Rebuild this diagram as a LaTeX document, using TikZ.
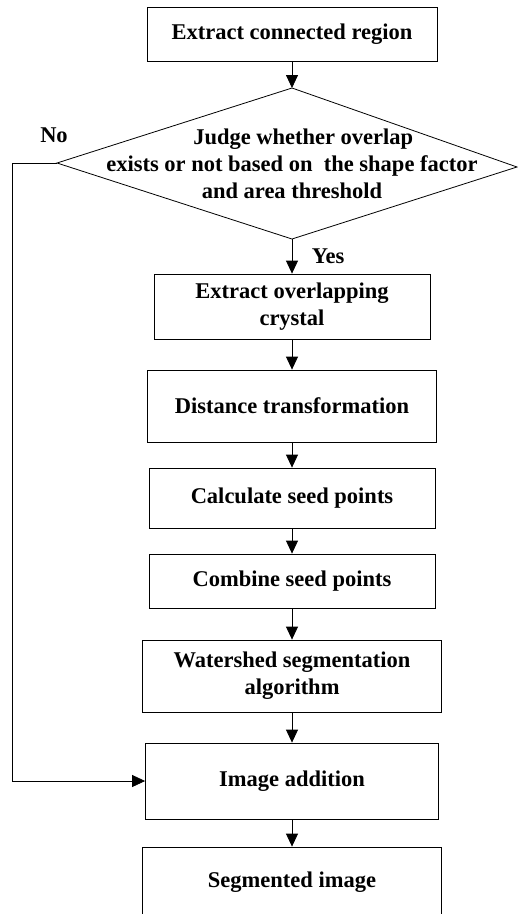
\documentclass[tikz,border=0pt]{standalone}
\usepackage{fontspec}
\setmainfont{Liberation Serif}
\usetikzlibrary{arrows.meta}
\begin{document}
\begin{tikzpicture}[x=1pt,y=-1pt,
  txt/.style={font=\bfseries\fontsize{22.5}{27}\selectfont, align=center, inner sep=0pt},
  box/.style={txt, draw, line width=0.8pt},
  arr/.style={-{Triangle[width=12pt,length=13pt]}, line width=0.8pt}]
\useasboundingbox (0,0) rectangle (518,914);
\clip (0,0) rectangle (518,914);
\node[box, minimum width=290pt, minimum height=54pt] (b1) at (292,34) {Extract connected region};
\coordinate (dt) at (292,88);
\coordinate (dr) at (517,167);
\coordinate (db) at (292,239);
\coordinate (dl) at (57,163);
\draw[line width=0.8pt] (dt) -- (dr) -- (db) -- (dl) -- cycle;
\node[txt] (dtext) at (292,164) {\hspace*{1em}Judge whether overlap\\exists or not based on\ \ the shape factor\\and area threshold};
\node[box, minimum width=276pt, minimum height=65pt] (b2) at (292,306.5) {Extract overlapping\\crystal};
\node[box, minimum width=289pt, minimum height=72pt] (b3) at (292,406) {Distance transformation};
\node[box, minimum width=286pt, minimum height=60pt] (b4) at (292,498) {Calculate seed points};
\node[box, minimum width=286pt, minimum height=54pt] (b5) at (292,581) {Combine seed points};
\node[box, minimum width=299pt, minimum height=72pt] (b6) at (292,676) {Watershed segmentation\\algorithm};
\node[box, minimum width=293pt, minimum height=76pt] (b7) at (292,781) {Image addition};
\node[box, minimum width=299pt, minimum height=70pt] (b8) at (292,882) {Segmented image};
\node[txt] (yes) at (328,256) {Yes};
\node[txt] (no) at (54,135) {No};
\coordinate (nocorner) at (12,163);
\draw[arr] (b1.south) -- (dt);
\draw[arr] (db) -- (b2.north);
\draw[arr] (b2) -- (b3);
\draw[arr] (b3) -- (b4);
\draw[arr] (b4) -- (b5);
\draw[arr] (b5) -- (b6);
\draw[arr] (b6) -- (b7);
\draw[arr] (b7) -- (b8);
\draw[arr] (dl) -- (nocorner) |- (b7.west);
\end{tikzpicture}
\end{document}
